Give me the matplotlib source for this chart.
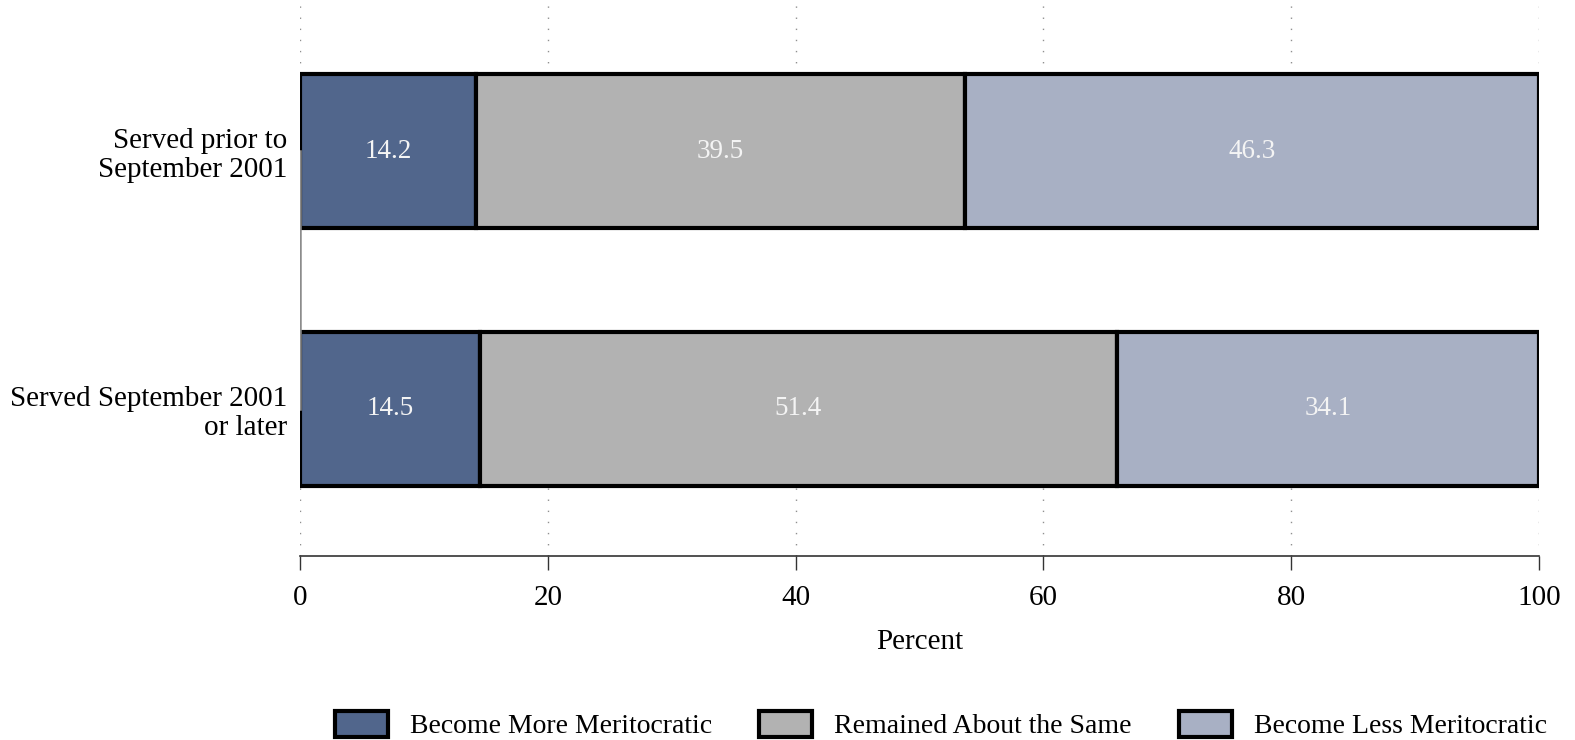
import matplotlib
matplotlib.use("Agg")
import matplotlib.pyplot as plt
from matplotlib.patches import Patch

plt.rcParams['font.family'] = ['Liberation Serif', 'DejaVu Serif']

groups = ["Served prior to\nSeptember 2001", "Served September 2001\nor later"]
categories = ["Become More Meritocratic", "Remained About the Same", "Become Less Meritocratic"]
more = [14.2, 14.5]
same = [39.5, 51.4]
less = [46.3, 34.1]
colors = ["#51668c", "#b2b2b2", "#a8b0c4"]
xticks = [0, 20, 40, 60, 80, 100]

fig = plt.figure(figsize=(15.75, 7.4), dpi=100)
ax = fig.add_axes([300 / 1575, 1 - 556 / 740, 1239 / 1575, 551 / 740])

ypos = [1, 0]   # top bar first
bar_h = 0.6
ylo, yhi = -0.57, 1.566
series = [more, same, less]
left = [0, 0]
for vals, col, name in zip(series, colors, categories):
    ax.barh(ypos, vals, left=left, height=bar_h, color=col, edgecolor="black",
            linewidth=3, label=name, zorder=3)
    for y, l, v in zip(ypos, left, vals):
        ax.text(l + v / 2, y, f"{v:.1f}", ha="center", va="center",
                color="#f4f4f4", fontsize=19.5, zorder=5)
    left = [a + b for a, b in zip(left, vals)]

# dotted grid only outside the bar block
ax.vlines(xticks, ypos[0] + bar_h / 2, yhi, colors="#909090",
          linestyles=[(0, (1, 7))], linewidth=1.0, zorder=0)
ax.vlines(xticks, ylo, ypos[1] - bar_h / 2, colors="#909090",
          linestyles=[(0, (1, 7))], linewidth=1.0, zorder=0)

# thin gray line joining the bar starts
ax.plot([0, 0], [ypos[0], ypos[1]], color="#8c8c8c", lw=1.8, zorder=4)

ax.set_xlim(0, 100)
ax.set_ylim(ylo, yhi)
ax.set_xticks(xticks)
ax.set_xticklabels([str(t) for t in xticks], fontsize=21)
ax.set_yticks(ypos)
ax.set_yticklabels(groups, fontsize=21, linespacing=1.15)
ax.tick_params(axis="y", length=0, pad=9)
ax.tick_params(axis="x", length=10, width=1, color="#333333", pad=11)
for s in ["top", "right", "left"]:
    ax.spines[s].set_visible(False)
ax.spines["bottom"].set_linewidth(1.2)
ax.spines["bottom"].set_color("#333333")
ax.set_xlabel("Percent", fontsize=21, labelpad=13)

handles = [Patch(facecolor=c, edgecolor="black", linewidth=3, label=n)
           for c, n in zip(colors, categories)]
fig.legend(handles=handles, loc="lower right", bbox_to_anchor=(0.998, -0.033), ncol=3,
           frameon=False, fontsize=20, handlelength=1.9, handleheight=1.05,
           columnspacing=1.7, handletextpad=0.8)

fig.savefig("out.png", dpi=100)
